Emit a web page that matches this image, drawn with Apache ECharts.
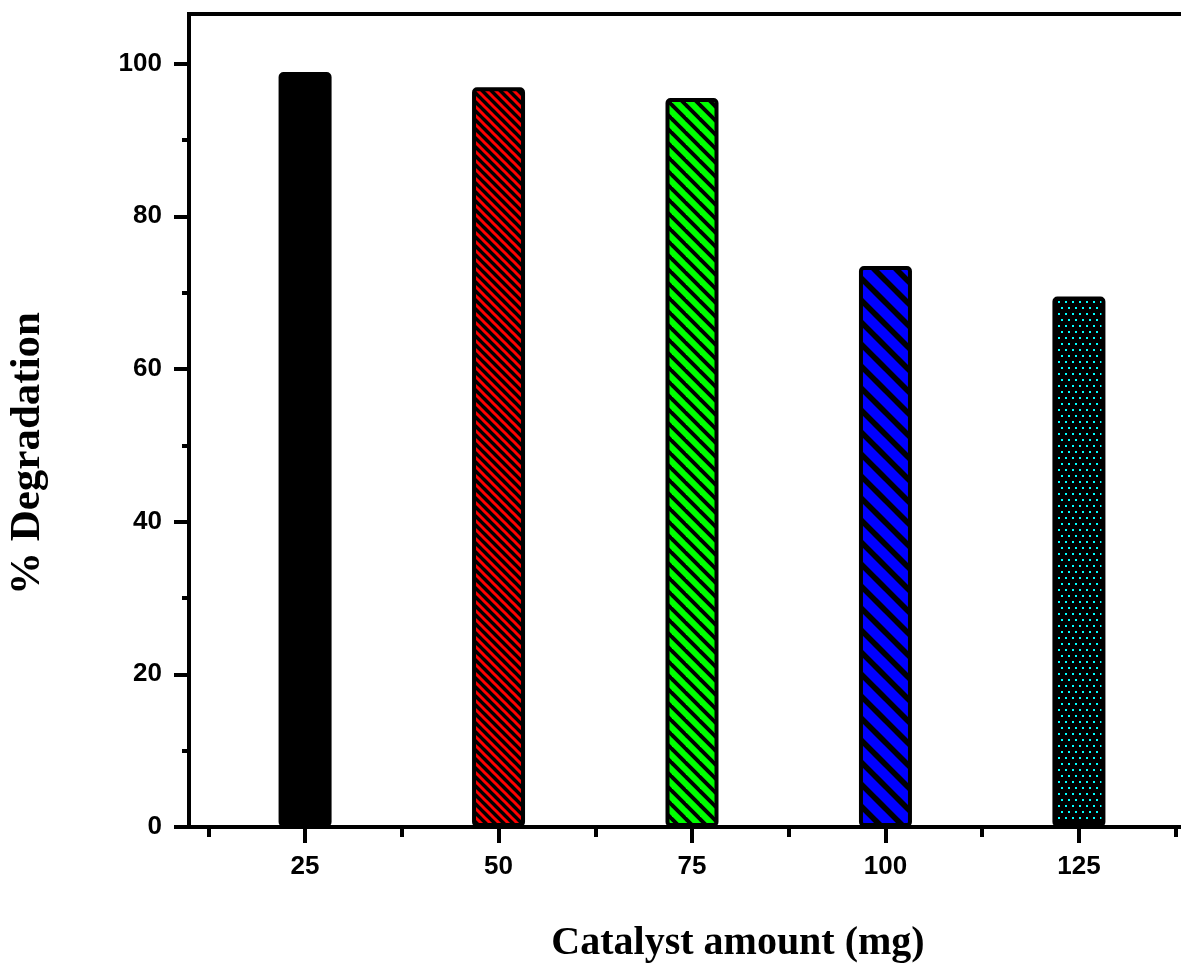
<!DOCTYPE html>
<html>
<head>
<meta charset="utf-8">
<title>Catalyst amount vs % Degradation</title>
<script src="https://cdn.jsdelivr.net/npm/echarts@6/dist/echarts.min.js"></script>
<style>
  html, body { margin: 0; padding: 0; background: #fff; }
  #chart { width: 1181px; height: 964px; }
</style>
</head>
<body>
<div id="chart"></div>
<script>
// catalyst amount (mg) and % degradation
const catalystAmounts = [25, 50, 75, 100, 125];
const degradation = [98.9, 96.9, 95.5, 73.5, 69.5];
const xTickValues = [25, 50, 75, 100, 125];
const xMinorValues = [12.5, 37.5, 62.5, 87.5, 112.5, 137.5];
const yTickValues = [0, 20, 40, 60, 80, 100];
const yMinorValues = [10, 30, 50, 70, 90];

// hatch tile: black background with "\" stripes
const stripes = (color, period, width) => {
  const c = document.createElement('canvas');
  c.width = period;
  c.height = period;
  const ctx = c.getContext('2d');
  ctx.fillStyle = '#000';
  ctx.fillRect(0, 0, period, period);
  ctx.strokeStyle = color;
  ctx.lineWidth = width;
  for (let k = -2; k <= 2; k++) {
    ctx.beginPath();
    ctx.moveTo(k * period - period, -period);
    ctx.lineTo(k * period + 2 * period, 2 * period);
    ctx.stroke();
  }
  return { image: c, repeat: 'repeat' };
};

const dots = (color) => {
  const c = document.createElement('canvas');
  c.width = 14;
  c.height = 12;
  const ctx = c.getContext('2d');
  ctx.fillStyle = '#000';
  ctx.fillRect(0, 0, 14, 12);
  ctx.fillStyle = color;
  ctx.fillRect(1, 1, 2, 2);
  ctx.fillRect(8, 1, 2, 2);
  ctx.fillRect(4, 7, 2, 2);
  ctx.fillRect(11, 7, 2, 2);
  return { image: c, repeat: 'repeat' };
};

const fills = [
  '#000000',
  stripes('#ff0000', 9, 3),
  stripes('#00ff00', 14, 6),
  stripes('#0000ff', 22, 10),
  dots('#00ffff')
];

const chart = echarts.init(document.getElementById('chart'));

const labelFont = {
  color: '#000',
  fontFamily: 'Liberation Sans, Arial, sans-serif',
  fontWeight: 'bold',
  fontSize: 26
};
const nameFont = {
  color: '#000',
  fontFamily: 'Liberation Serif, Times New Roman, serif',
  fontWeight: 'bold'
};

chart.setOption({
  animation: false,
  grid: {
    left: 189,
    right: -14,
    top: 14,
    bottom: 137,
    show: true,
    borderColor: '#000',
    borderWidth: 4,
    outerBoundsMode: 'none'
  },
  xAxis: [
    {
      type: 'value',
      min: 10,
      max: 140,
      name: 'Catalyst amount (mg)',
      nameLocation: 'middle',
      nameGap: 97,
      nameTextStyle: Object.assign({ fontSize: 40, padding: [0, 0, 0, 92] }, nameFont),
      axisLine: { lineStyle: { color: '#000', width: 4 } },
      axisTick: { length: 16, lineStyle: { color: '#000', width: 4 }, customValues: xTickValues },
      axisLabel: Object.assign({ margin: 27, customValues: xTickValues }, labelFont),
      splitLine: { show: false }
    },
    {
      type: 'value',
      min: 10,
      max: 140,
      position: 'bottom',
      axisLine: { show: false },
      axisTick: { length: 10, lineStyle: { color: '#000', width: 4 }, customValues: xMinorValues },
      axisLabel: { show: false },
      splitLine: { show: false }
    }
  ],
  yAxis: [
    {
      type: 'value',
      min: 0,
      max: 106.5,
      name: '% Degradation',
      nameLocation: 'middle',
      nameGap: 140,
      nameTextStyle: Object.assign({ fontSize: 43, padding: [0, 66, 0, 0] }, nameFont),
      axisLine: { show: true, lineStyle: { color: '#000', width: 4 } },
      axisTick: { show: true, length: 15, lineStyle: { color: '#000', width: 4 }, customValues: yTickValues },
      axisLabel: Object.assign({ margin: 27, customValues: yTickValues }, labelFont),
      splitLine: { show: false }
    },
    {
      type: 'value',
      min: 0,
      max: 106.5,
      position: 'left',
      axisLine: { show: false },
      axisTick: { show: true, length: 7, lineStyle: { color: '#000', width: 4 }, customValues: yMinorValues },
      axisLabel: { show: false },
      splitLine: { show: false }
    }
  ],
  series: [
    {
      type: 'bar',
      barWidth: 53,
      data: catalystAmounts.map((x, i) => ({
        value: [x, degradation[i]],
        itemStyle: {
          color: fills[i],
          borderColor: '#000',
          borderWidth: 4,
          borderRadius: 3
        }
      }))
    }
  ]
});
</script>
</body>
</html>
